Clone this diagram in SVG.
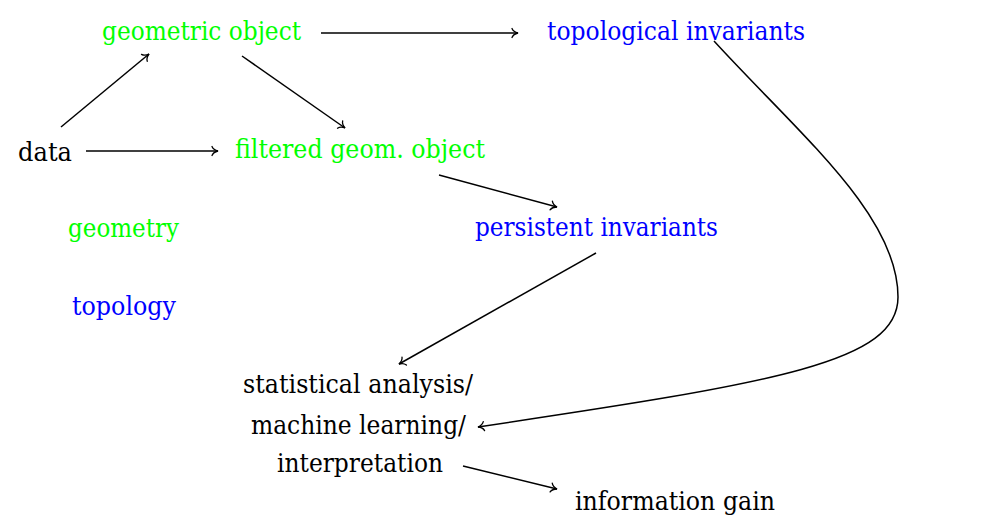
<svg xmlns="http://www.w3.org/2000/svg" width="1000" height="527" viewBox="0 0 1000 527">
<defs>
<style>
text{font-family:'DejaVu Serif','Liberation Serif',serif;font-size:26px;}
.g{fill:#00ff00}
.b{fill:#0000ff}
.k{fill:#000}
.c{fill:none;stroke:#000;stroke-width:1.5;marker-end:url(#arr)}
</style>
<marker id="arr" markerUnits="userSpaceOnUse" markerWidth="16" markerHeight="16" viewBox="-8 -8 16 16" refX="0" refY="0" orient="auto">
<path d="M-6,-4.5 C-5,-2 -2,-0.5 0,0 C-2,0.5 -5,2 -6,4.5" fill="none" stroke="#000" stroke-width="1.3" stroke-linecap="round"/>
</marker>
</defs>
<rect width="1000" height="527" fill="#fff"/>
<g id="connectors">
<path class="c" d="M61,127 L149,54"/>
<path class="c" d="M242,56 L345,128"/>
<path class="c" d="M321,33 L518,33"/>
<path class="c" d="M86,151 L218,151"/>
<path class="c" d="M439,175 L557,207"/>
<path class="c" d="M596,253 L399,364"/>
<path class="c" d="M714,41 C800,135 898,215 898,297 C898,362 780,382 478,427"/>
<path class="c" d="M463,466 L557,489"/>
</g>
<g id="geometric-object"><text class="g" x="102" y="40" textLength="199" lengthAdjust="spacingAndGlyphs">geometric object</text></g>
<g id="topological-invariants"><text class="b" x="547" y="40" textLength="258" lengthAdjust="spacingAndGlyphs">topological invariants</text></g>
<g id="data"><text class="k" x="18" y="161" textLength="54" lengthAdjust="spacingAndGlyphs">data</text></g>
<g id="filtered-geom-object"><text class="g" x="235" y="158" textLength="250" lengthAdjust="spacingAndGlyphs">filtered geom. object</text></g>
<g id="geometry"><text class="g" x="68" y="237" textLength="111" lengthAdjust="spacingAndGlyphs">geometry</text></g>
<g id="persistent-invariants"><text class="b" x="475" y="236" textLength="243" lengthAdjust="spacingAndGlyphs">persistent invariants</text></g>
<g id="topology"><text class="b" x="72" y="315" textLength="104" lengthAdjust="spacingAndGlyphs">topology</text></g>
<g id="analysis">
<text class="k" x="243" y="393" textLength="230" lengthAdjust="spacingAndGlyphs">statistical analysis/</text>
<text class="k" x="251" y="434" textLength="215" lengthAdjust="spacingAndGlyphs">machine learning/</text>
<text class="k" x="277" y="472" textLength="166" lengthAdjust="spacingAndGlyphs">interpretation</text>
</g>
<g id="information-gain"><text class="k" x="575" y="510" textLength="200" lengthAdjust="spacingAndGlyphs">information gain</text></g>
</svg>
